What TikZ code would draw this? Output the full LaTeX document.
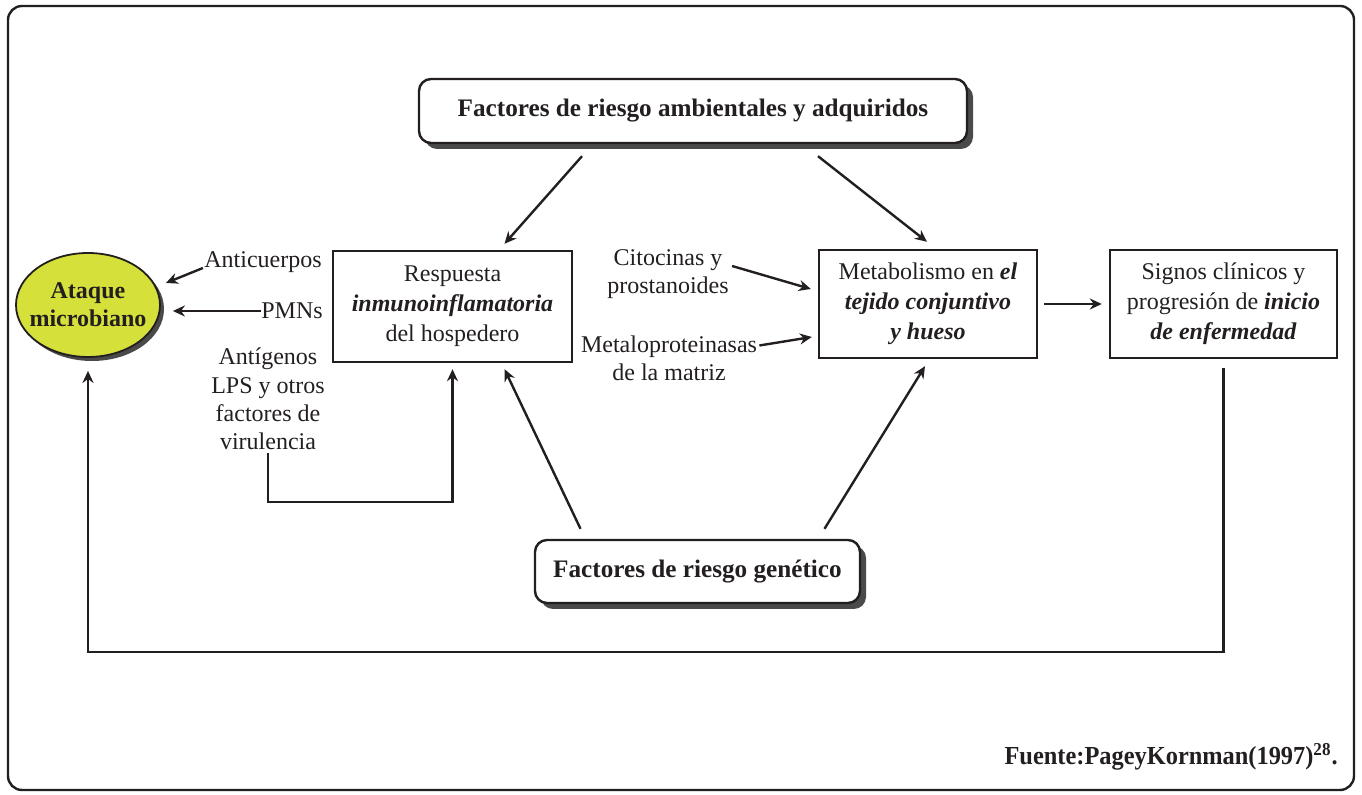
\documentclass[tikz,border=0pt]{standalone}
\usepackage{fontspec}
\setmainfont{Liberation Serif}
\usetikzlibrary{arrows.meta,shadows,shapes.geometric}
\definecolor{ink}{HTML}{231F20}
\definecolor{ataque}{HTML}{D6E03A}
\definecolor{shade}{HTML}{4A4A4A}
\begin{document}
\begin{tikzpicture}[x=0.5pt,y=-0.5pt,
  every node/.style={text=ink,font=\fontsize{12pt}{14.2pt}\selectfont},
  plainbox/.style={draw=ink,line width=1.2pt,align=center,inner sep=0pt,font=\fontsize{12pt}{15pt}\selectfont},
  riskbox/.style={draw=ink,line width=1.2pt,rounded corners=6pt,fill=white,align=center,inner sep=0pt,
    font=\fontsize{12.6pt}{15pt}\selectfont\bfseries,
    drop shadow={shadow xshift=3pt,shadow yshift=-3pt,fill=shade,opacity=1}},
  lbl/.style={align=center,inner sep=0pt},
  arr/.style={draw=ink,line width=1.2pt,-{Stealth[length=6pt,width=5.5pt]}}]
\useasboundingbox (0,0) rectangle (1362,795);
\draw[ink,line width=1.2pt,rounded corners=7pt] (8,6) rectangle (1354,790);

\node[riskbox,minimum width=274pt,minimum height=32pt] (top) at (693,111) {Factores de riesgo ambientales y adquiridos};
\node[riskbox,minimum width=162.5pt,minimum height=31.5pt] (bot) at (697.5,571.5) {Factores de riesgo genético};

\node[ellipse,draw=ink,line width=0.9pt,fill=ataque,minimum width=72pt,minimum height=52pt,inner sep=0pt,
  drop shadow={shadow xshift=2pt,shadow yshift=-2pt,fill=shade,opacity=1}] (ata) at (88,305) {};
\node[align=center,inner sep=0pt,font=\fontsize{12pt}{14pt}\selectfont\bfseries] (atatext) at (ata.center) {Ataque\\microbiano};

\node[plainbox,minimum width=119.5pt,minimum height=55.5pt] (resp) at (452.5,306.5)
  {Respuesta\\\textbf{\textit{inmunoinflamatoria}}\\del hospedero};
\node[plainbox,minimum width=109pt,minimum height=54pt] (meta) at (928,304)
  {Metabolismo en \textbf{\textit{el}}\\\textbf{\textit{tejido conjuntivo}}\\\textbf{\textit{y hueso}}};
\node[plainbox,minimum width=113.5pt,minimum height=54pt] (sig) at (1223.5,304)
  {Signos clínicos y\\progresión de \textbf{\textit{inicio}}\\\textbf{\textit{de enfermedad}}};

\node[lbl] (anti) at (263,262) {Anticuerpos};
\node[lbl] (pmn) at (292,311) {PMNs};
\node[lbl] (antig) at (268,399) {Antígenos\\LPS y otros\\factores de\\virulencia};
\node[lbl] (cito) at (668,274) {Citocinas y\\prostanoides};
\node[lbl] (metal) at (669,358.5) {Metaloproteinasas\\de la matriz};

\node[anchor=east,inner sep=0pt] (fuente) at (1338,757)
  {\resizebox{166.5pt}{\height}{\fontsize{13pt}{15pt}\selectfont\bfseries Fuente:PageyKornman(1997)\textsuperscript{28}.}};

% arrows from risk factors
\draw[arr] ([shift={(-111,12)}]top.south) -- ([shift={(52,-6)}]resp.north);
\draw[arr] ([shift={(125,12)}]top.south) -- ([shift={(-1,-7)}]meta.north);
\draw[arr] ([shift={(-117,-10)}]bot.north) -- ([shift={(52,6)}]resp.south);
\draw[arr] ([shift={(127,-10)}]bot.north) -- ([shift={(-3,7)}]meta.south);

% inputs to ataque
\draw[arr] ([shift={(-1,6)}]anti.west) -- ([shift={(5,-22)}]ata.east);
\draw[arr] (pmn.west) -- ([shift={(12,6)}]ata.east);

% virulence loop
\coordinate (v1) at (antig.south |- 0,502);
\draw[arr] ([shift={(0,3)}]antig.south) -- (v1) -| ([shift={(0,6)}]resp.south);

% mediators
\draw[arr] ([shift={(3,-8)}]cito.east) -- ([shift={(-7,-15)}]meta.west);
\draw[arr] ([shift={(2,-13)}]metal.east) -- ([shift={(-6,33)}]meta.west);

\draw[arr] ([shift={(6,0)}]meta.east) -- ([shift={(-7,0)}]sig.west);

% feedback loop
\coordinate (f1) at (sig.south |- 0,652);
\draw[arr] ([shift={(0,9)}]sig.south) -- (f1) -| ([shift={(0,13)}]ata.south);
\end{tikzpicture}
\end{document}
